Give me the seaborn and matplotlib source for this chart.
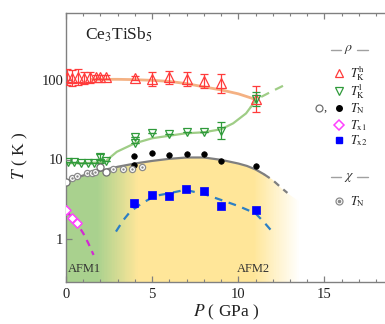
import numpy as np
import pandas as pd
import matplotlib
matplotlib.use("Agg")
import matplotlib.pyplot as plt
import seaborn as sns
from matplotlib.colors import LinearSegmentedColormap
from matplotlib.patches import Polygon

# ---------------- data ----------------
# T_K^h (resistivity, red open up-triangles)
pkh = [0.05, 0.35, 0.7, 1.05, 1.4, 1.75, 2.0, 2.3, 4.0, 5.0, 6.0, 7.0, 8.0, 9.0, 11.05]
tkh = [108, 107, 108, 107, 108, 108, 109, 110, 105, 102, 108, 102, 97, 91, 58]
tkh_lo = [22, 22, 22, 17, 15, 6, 6, 6, 6, 19, 19, 19, 17, 22, 18]
tkh_hi = [28, 28, 28, 20, 17, 6, 6, 6, 6, 23, 22, 23, 21, 29, 27]
# T_K^l (resistivity, green open down-triangles)
pkl = [0.1, 0.48, 0.87, 1.26, 1.65, 2.0, 2.0, 2.3, 4.0, 4.0, 5.0, 6.0, 7.0, 8.0, 9.0, 11.05]
tkl = [9.4, 9.4, 9.1, 9.1, 9.1, 10.8, 9.1, 9.7, 19.4, 15.9, 21.3, 20.8, 21.9, 21.9, 23, 58]
tkl_lo = [0, 0, 0, 0, 0, 0.9, 0, 0, 0, 0, 0, 0, 0, 0, 5.0, 10.6]
tkl_hi = [0, 0, 0, 0, 0, 1.0, 0, 0, 0, 0, 0, 0, 0, 0, 6.4, 13.0]
# T_N (resistivity) closed / open
pn_c = [3.97, 3.97, 4.98, 6.0, 7.0, 8.0, 9.0, 11.0]
tn_c = [11.1, 8.6, 12.0, 11.4, 11.6, 11.7, 9.7, 8.4]
pn_o = [0.0, 2.0, 2.3]
tn_o = [5.2, 8.1, 7.0]
# T_N (susceptibility)
pn_chi = [0.33, 0.62, 1.2, 1.49, 1.69, 2.75, 3.33, 3.85, 4.43]
tn_chi = [5.8, 6.2, 6.7, 6.8, 7.0, 7.5, 7.5, 7.7, 8.0]
# T_x1, T_x2
px1 = [0.0, 0.33, 0.64]
tx1 = [2.32, 1.85, 1.57]
px2 = [3.97, 5.02, 6.0, 6.98, 8.0, 9.0, 11.0]
tx2 = [2.81, 3.58, 3.47, 4.26, 4.05, 2.6, 2.32]
tx2_err = [0.25, 0, 0, 0, 0, 0, 0]

# guide curves
orange_p = [1.5, 3.0, 4.0, 5.0, 6.0, 7.0, 8.0, 9.0, 10.0, 11.0]
orange_t = [102, 102, 101, 99, 96, 90, 82, 75, 67, 57]
green_p = [0, 1, 2, 2.3, 2.6, 2.95, 4, 5, 6, 6.9, 8, 9, 9.7, 10.45, 10.7]
green_t = [9.0, 9.0, 9.2, 9.5, 10.8, 12.5, 16, 18.5, 19.9, 21.3, 22, 24, 28.5, 38, 45]
green_dash_p = [10.7, 11.05, 12.0, 12.9]
green_dash_t = [45, 57, 73, 91]
tn_line_p = [0, 0.5, 1.0, 2.0, 3.0, 4.0, 5.0, 6.0, 7.0, 8.0, 9.0, 10.0, 10.5, 11.0, 11.5]
tn_line_t = [5.2, 5.8, 6.3, 7.2, 8.1, 8.9, 9.6, 10.2, 10.6, 10.6, 9.9, 8.9, 8.3, 7.5, 6.5]
tn_dash_p = [11.5, 12.0, 12.5, 12.85]
tn_dash_t = [6.5, 5.5, 4.4, 3.8]
x1_line_p = [0, 0.33, 0.64, 1.0, 1.3, 1.6]
x1_line_t = [2.32, 1.85, 1.57, 1.18, 0.88, 0.63]
x2_line_p = [2.9, 3.33, 3.72, 4.4, 5.17, 6.14, 6.92, 8.0, 9.0, 10.0, 11.0, 11.5, 12.05]
x2_line_t = [1.24, 1.73, 2.2, 2.81, 3.48, 3.82, 4.15, 3.68, 3.1, 2.6, 2.1, 1.62, 1.18]
# phase region end
region_end_p = 13.6
region_end_t = 2.9

xticks = [0, 5, 10, 15]
yticks = [1, 10, 100]
ytick_labels = ["1", "10", "100"]

# ---------------- style ----------------
sns.set_theme(style="ticks")
plt.rcParams["font.family"] = ["Liberation Serif", "DejaVu Serif"]
plt.rcParams["mathtext.fontset"] = "stix"

GRAY = "#808080"
RED = "#ff3b3b"
GREEN = "#2f9a3a"
BLUE = "#0000ff"
MAG = "#ff40ff"

fig = plt.figure(figsize=(3.85, 3.24), dpi=100)
ax = fig.add_axes([66 / 385, 42 / 324, 319 / 385, 269 / 324])
ax.set_yscale("log")
XMAX = 319 / 17.23
YLO, YHI = 10 ** (-43 / 79.5), 10 ** (226 / 79.5)
ax.set_xlim(0, XMAX)
ax.set_ylim(YLO, YHI)

# ------------- phase region gradient -------------
poly_p = list(tn_line_p) + list(tn_dash_p[1:]) + [region_end_p, region_end_p, 0]
poly_t = list(tn_line_t) + list(tn_dash_t[1:]) + [region_end_t, 0.1, 0.1]
patch = Polygon(np.column_stack([poly_p, poly_t]), closed=True,
                facecolor="none", edgecolor="none", transform=ax.transData)
ax.add_patch(patch)
green_c, yellow_c = "#a9d18e", "#ffe699"
cmap = LinearSegmentedColormap.from_list(
    "phase", [(0, green_c), (1.8 / 13.6, green_c), (4.2 / 13.6, yellow_c),
              (10.9 / 13.6, yellow_c), (1.0, "#ffffff")])
xe = np.linspace(0, region_end_p, 400)
C = ((xe[:-1] + xe[1:]) / 2 / region_end_p)[None, :]
mesh = ax.pcolormesh(xe, [0.1, YHI], C, cmap=cmap, vmin=0, vmax=1,
                     shading="flat", zorder=0, rasterized=True)
mesh.set_clip_path(patch)

# ------------- guide lines -------------
def line(px, py, color, lw, ls="-", z=2):
    sns.lineplot(x=px, y=py, ax=ax, color=color, lw=lw, linestyle=ls,
                 estimator=None, sort=False, zorder=z)

line(orange_p, orange_t, "#f4b183", 2.0)
line(green_p, green_t, "#9fcd86", 1.6)
line(green_dash_p, green_dash_t, "#9fcd86", 1.6, (0, (4, 3)))
line(tn_line_p, tn_line_t, "#7f7f7f", 1.6)
line(tn_dash_p, tn_dash_t, "#7f7f7f", 1.6, (0, (3, 2.5)))
line(x1_line_p, x1_line_t, "#d22ad2", 1.6, (0, (3, 2.5)))
line(x2_line_p, x2_line_t, "#2c7fc4", 1.6, (0, (3.5, 3)))

# ------------- data points -------------
ax.errorbar(pkh, tkh, yerr=[tkh_lo, tkh_hi], fmt="^", ms=6.5, mfc="none",
            mec=RED, mew=0.9, ecolor=RED, elinewidth=0.9, capsize=3,
            capthick=0.9, zorder=4)
ax.errorbar(pkl, tkl, yerr=[tkl_lo, tkl_hi], fmt="v", ms=6, mfc="none",
            mec=GREEN, mew=0.9, ecolor=GREEN, elinewidth=0.9, capsize=3,
            capthick=0.9, zorder=4)
ax.errorbar(px2, tx2, yerr=tx2_err, fmt="none", ecolor=BLUE, elinewidth=0.9,
            capsize=2.5, capthick=0.9, zorder=4)
sns.scatterplot(x=px2, y=tx2, ax=ax, marker="s", s=26, color=BLUE,
                edgecolor=BLUE, linewidth=0.5, zorder=5)
sns.scatterplot(x=pn_c, y=tn_c, ax=ax, marker="o", s=16, color="black",
                edgecolor="black", linewidth=0.5, zorder=5)
sns.scatterplot(x=pn_chi, y=tn_chi, ax=ax, marker="o", s=20, color="white",
                edgecolor="#8a8a8a", linewidth=0.9, zorder=5)
sns.scatterplot(x=pn_chi, y=tn_chi, ax=ax, marker="o", s=3, color="#8a8a8a",
                edgecolor="#8a8a8a", linewidth=0, zorder=6)
sns.scatterplot(x=pn_o, y=tn_o, ax=ax, marker="o", s=26, color="white",
                edgecolor="#707070", linewidth=0.9, zorder=5)
sns.scatterplot(x=px1, y=tx1, ax=ax, marker="D", s=22, color="white",
                edgecolor=MAG, linewidth=1.1, zorder=5)

# ------------- axes styling -------------
for side in ["left", "bottom", "top"]:
    ax.spines[side].set_color(GRAY)
    ax.spines[side].set_linewidth(1.0)
ax.spines["right"].set_visible(False)
ax.set_xticks(xticks)
ax.set_xticklabels([str(v) for v in xticks])
ax.set_xticks(np.arange(0, 19, 1), minor=True)
ax.set_yticks(yticks)
ax.set_yticklabels(ytick_labels)
ax.yaxis.set_minor_locator(matplotlib.ticker.NullLocator())
ax.tick_params(axis="both", which="major", direction="in", length=4.5,
               width=0.9, color=GRAY, labelsize=10.5, labelcolor="#222222")
ax.tick_params(axis="x", which="both", top=True, bottom=True, pad=4)
ax.tick_params(axis="x", which="minor", direction="in", length=2.5,
               width=0.8, color=GRAY)
ax.tick_params(axis="y", which="major", pad=2, right=False)

ax.set_xlabel(r"$P$ ( GPa )", fontsize=12.5, color="#222222")
ax.set_ylabel(r"$T$ ( K )", fontsize=12.5, color="#222222")
ax.xaxis.set_label_coords((226 - 66) / 319, (282 - 303) / 269)
ax.yaxis.set_label_coords((30 - 66) / 319, (282 - 156) / 269)

def fx(x):
    return (x - 66) / 319

def fy(y):
    return (282 - y) / 269

ax.text(fx(85), fy(40), r"Ce$_3$TiSb$_5$", fontsize=12.5, color="#222222",
        transform=ax.transAxes, va="baseline", ha="left")
ax.text(fx(68), fy(272), "AFM1", fontsize=9, color="#333333",
        transform=ax.transAxes, va="baseline", ha="left")
ax.text(fx(237), fy(272), "AFM2", fontsize=9, color="#333333",
        transform=ax.transAxes, va="baseline", ha="left")

# ------------- manual legend -------------
T = ax.transAxes
def header(y, sym):
    ax.plot([fx(331), fx(341)], [fy(y), fy(y)], color="#a0a0a0", lw=1.0,
            transform=T, clip_on=False)
    ax.plot([fx(357), fx(368)], [fy(y), fy(y)], color="#a0a0a0", lw=1.0,
            transform=T, clip_on=False)
    ax.text(fx(349), fy(y), sym, fontsize=10, transform=T, ha="center",
            va="center", color="#333333")

header(50, r"$\rho$")
header(177, r"$\chi$")
mx = fx(339)
lx = fx(350)
ax.plot([mx], [fy(73)], marker="^", ms=6, mfc="none", mec=RED, mew=0.9,
        transform=T, clip_on=False, ls="none")
ax.plot([mx], [fy(91)], marker="v", ms=6, mfc="none", mec=GREEN, mew=0.9,
        transform=T, clip_on=False, ls="none")
ax.plot([fx(319)], [fy(108)], marker="o", ms=5, mfc="white", mec="#707070",
        mew=0.9, transform=T, clip_on=False, ls="none")
ax.text(fx(325), fy(108), ",", fontsize=9, transform=T, ha="center",
        va="center", color="#333333")
ax.plot([mx], [fy(108)], marker="o", ms=4, mfc="black", mec="black",
        transform=T, clip_on=False, ls="none")
ax.plot([mx], [fy(125)], marker="D", ms=5, mfc="white", mec=MAG, mew=1.1,
        transform=T, clip_on=False, ls="none")
ax.plot([mx], [fy(140)], marker="s", ms=5, mfc=BLUE, mec=BLUE,
        transform=T, clip_on=False, ls="none")
ax.plot([mx], [fy(201)], marker="o", ms=5, mfc="white", mec="#8a8a8a",
        mew=0.9, transform=T, clip_on=False, ls="none")
ax.plot([mx], [fy(201)], marker="o", ms=1.6, mfc="#8a8a8a", mec="#8a8a8a",
        transform=T, clip_on=False, ls="none")

labels = [(73, r"$T_\mathrm{K}^\mathrm{h}$"), (91, r"$T_\mathrm{K}^\mathrm{l}$"),
          (108, r"$T_\mathrm{N}$"), (125, r"$T_\mathrm{x1}$"),
          (140, r"$T_\mathrm{x2}$"), (201, r"$T_\mathrm{N}$")]
for y, s in labels:
    ax.text(lx, fy(y + 4), s, fontsize=9, transform=T, ha="left",
            va="baseline", color="#222222")

fig.savefig("out.png", dpi=100)
